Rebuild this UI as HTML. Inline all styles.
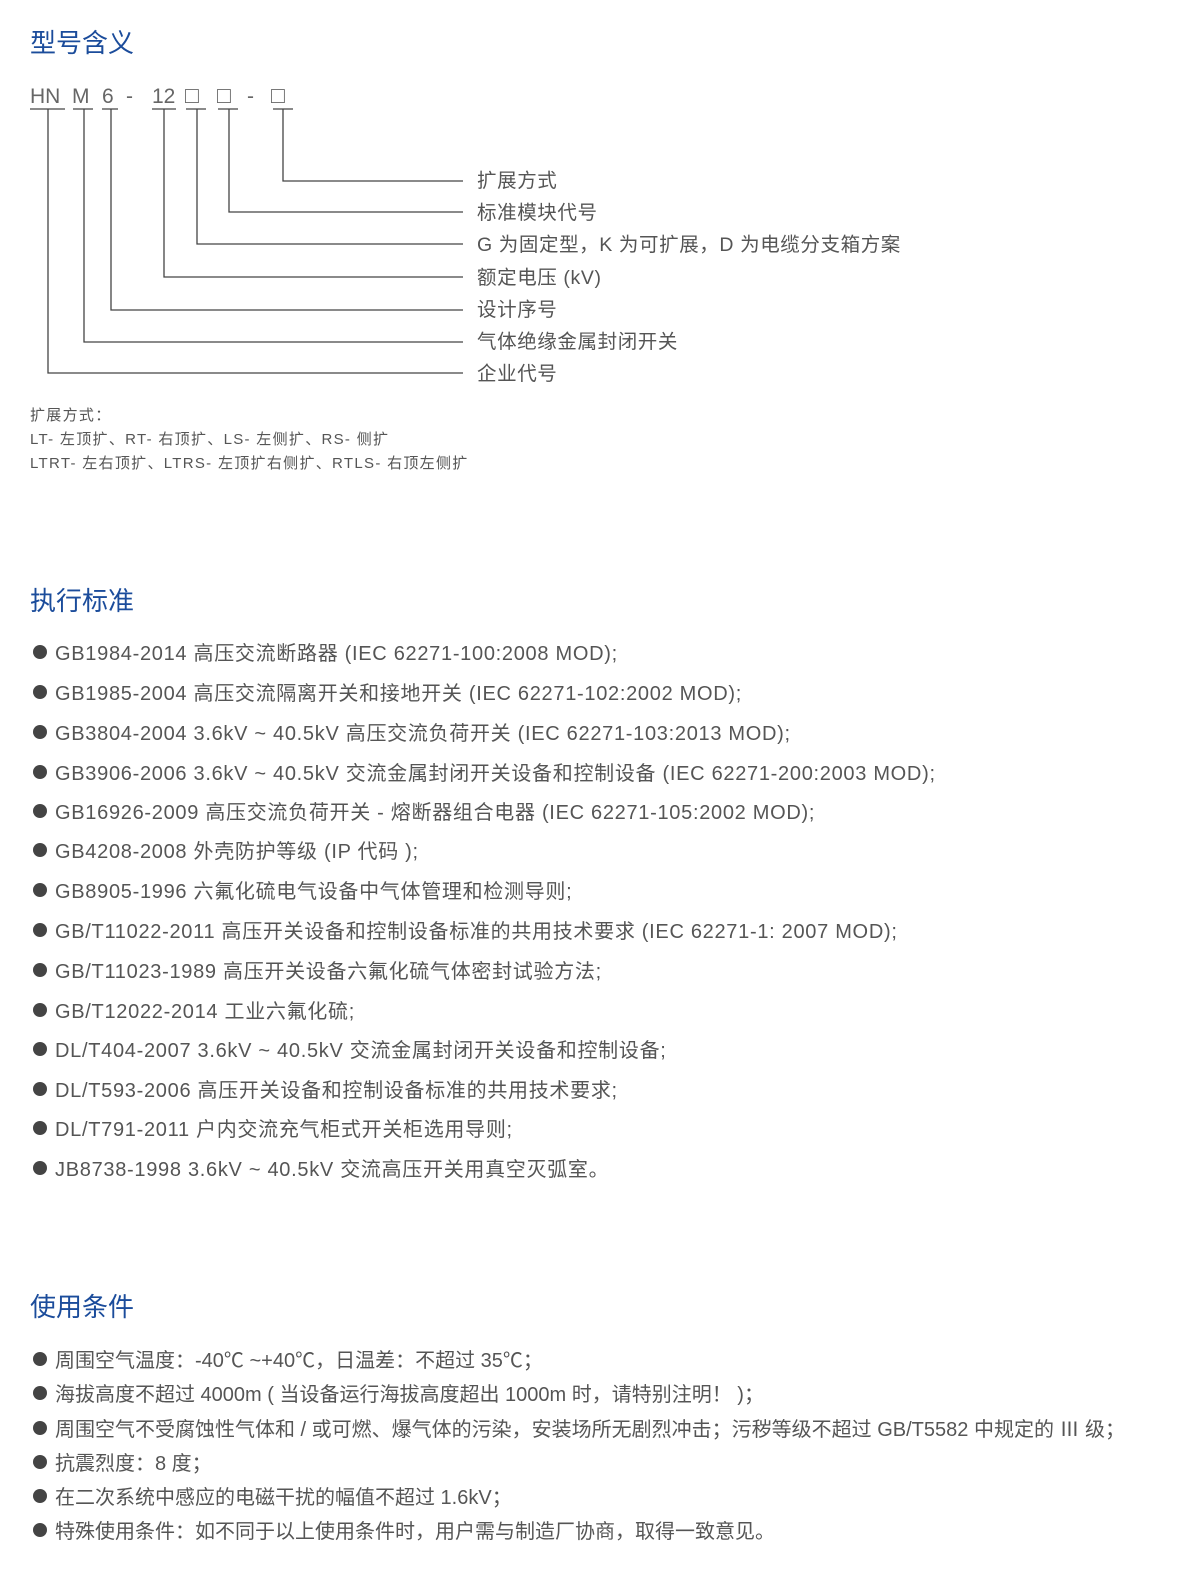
<!DOCTYPE html>
<html><head><meta charset="utf-8"><style>
body{margin:0;width:1190px;height:1575px;background:#fff;position:relative;font-family:"Liberation Sans","Noto Sans CJK SC",sans-serif;color:#555;overflow:hidden}
.t{position:absolute;white-space:nowrap;line-height:1}
.h{color:#1b4c9b;font-size:26px;left:30px}
.lab{left:477px;font-size:19.5px;color:#555;letter-spacing:0.6px}
.code{top:86px;font-size:21px;color:#666}
.li{left:33px;font-size:20px;color:#555}
.li:before{content:"";display:inline-block;width:14px;height:14px;border-radius:50%;background:#444;margin-right:8px;vertical-align:1px}
.s1{letter-spacing:0.7px}
.sm{left:30px;font-size:15px;color:#555;letter-spacing:1.3px}
</style></head><body>
<div class="t h" style="top:30px">型号含义</div>
<div class="t code" style="left:30px">HN</div>
<div class="t code" style="left:72px">M</div>
<div class="t code" style="left:102px">6</div>
<div class="t code" style="left:126px">-</div>
<div class="t code" style="left:152px">12</div>
<div class="t code" style="left:185px;font-size:23px;top:84px">□</div>
<div class="t code" style="left:217px;font-size:23px;top:84px">□</div>
<div class="t code" style="left:247px">-</div>
<div class="t code" style="left:271px;font-size:23px;top:84px">□</div>
<svg style="position:absolute;left:0;top:0" width="1190" height="400">
<g stroke="#444" stroke-width="1.3" fill="none">
<path d="M30 109H65M73 109H93M102 109H118M152 109H176M186 109H206M218 109H238M273 109H293"/>
<path d="M48 109V373H463M84 109V342H463M111 109V310H463M164 109V277H463M197 109V244H463M229 109V212H463M283 109V181H463"/>
</g></svg>
<div class="t lab" style="top:172px">扩展方式</div>
<div class="t lab" style="top:204px">标准模块代号</div>
<div class="t lab" style="top:236px">G 为固定型，K 为可扩展，D 为电缆分支箱方案</div>
<div class="t lab" style="top:269px">额定电压 (kV)</div>
<div class="t lab" style="top:301px">设计序号</div>
<div class="t lab" style="top:333px">气体绝缘金属封闭开关</div>
<div class="t lab" style="top:365px">企业代号</div>
<div class="t sm" style="top:408px">扩展方式：</div>
<div class="t sm" style="top:432px">LT- 左顶扩、RT- 右顶扩、LS- 左侧扩、RS- 侧扩</div>
<div class="t sm" style="top:456px">LTRT- 左右顶扩、LTRS- 左顶扩右侧扩、RTLS- 右顶左侧扩</div>

<div class="t h" style="top:588px">执行标准</div>
<div class="t li s1" style="top:644px">GB1984-2014 高压交流断路器 (IEC 62271-100:2008 MOD);</div>
<div class="t li s1" style="top:684px">GB1985-2004 高压交流隔离开关和接地开关 (IEC 62271-102:2002 MOD);</div>
<div class="t li s1" style="top:724px">GB3804-2004 3.6kV ~ 40.5kV 高压交流负荷开关 (IEC 62271-103:2013 MOD);</div>
<div class="t li s1" style="top:764px">GB3906-2006 3.6kV ~ 40.5kV 交流金属封闭开关设备和控制设备 (IEC 62271-200:2003 MOD);</div>
<div class="t li s1" style="top:803px">GB16926-2009 高压交流负荷开关 - 熔断器组合电器 (IEC 62271-105:2002 MOD);</div>
<div class="t li s1" style="top:842px">GB4208-2008 外壳防护等级 (IP 代码 );</div>
<div class="t li s1" style="top:882px">GB8905-1996 六氟化硫电气设备中气体管理和检测导则;</div>
<div class="t li s1" style="top:922px">GB/T11022-2011 高压开关设备和控制设备标准的共用技术要求 (IEC 62271-1: 2007 MOD);</div>
<div class="t li s1" style="top:962px">GB/T11023-1989 高压开关设备六氟化硫气体密封试验方法;</div>
<div class="t li s1" style="top:1002px">GB/T12022-2014 工业六氟化硫;</div>
<div class="t li s1" style="top:1041px">DL/T404-2007 3.6kV ~ 40.5kV 交流金属封闭开关设备和控制设备;</div>
<div class="t li s1" style="top:1081px">DL/T593-2006 高压开关设备和控制设备标准的共用技术要求;</div>
<div class="t li s1" style="top:1120px">DL/T791-2011 户内交流充气柜式开关柜选用导则;</div>
<div class="t li s1" style="top:1160px">JB8738-1998 3.6kV ~ 40.5kV 交流高压开关用真空灭弧室。</div>

<div class="t h" style="top:1294px">使用条件</div>
<div class="t li" style="top:1351px">周围空气温度：-40℃ ~+40℃，日温差：不超过 35℃；</div>
<div class="t li" style="top:1385px">海拔高度不超过 4000m ( 当设备运行海拔高度超出 1000m 时，请特别注明！ )；</div>
<div class="t li" style="top:1420px">周围空气不受腐蚀性气体和 / 或可燃、爆气体的污染，安装场所无剧烈冲击；污秽等级不超过 GB/T5582 中规定的 Ⅲ 级；</div>
<div class="t li" style="top:1454px">抗震烈度：8 度；</div>
<div class="t li" style="top:1488px">在二次系统中感应的电磁干扰的幅值不超过 1.6kV；</div>
<div class="t li" style="top:1522px">特殊使用条件：如不同于以上使用条件时，用户需与制造厂协商，取得一致意见。</div>
</body></html>
